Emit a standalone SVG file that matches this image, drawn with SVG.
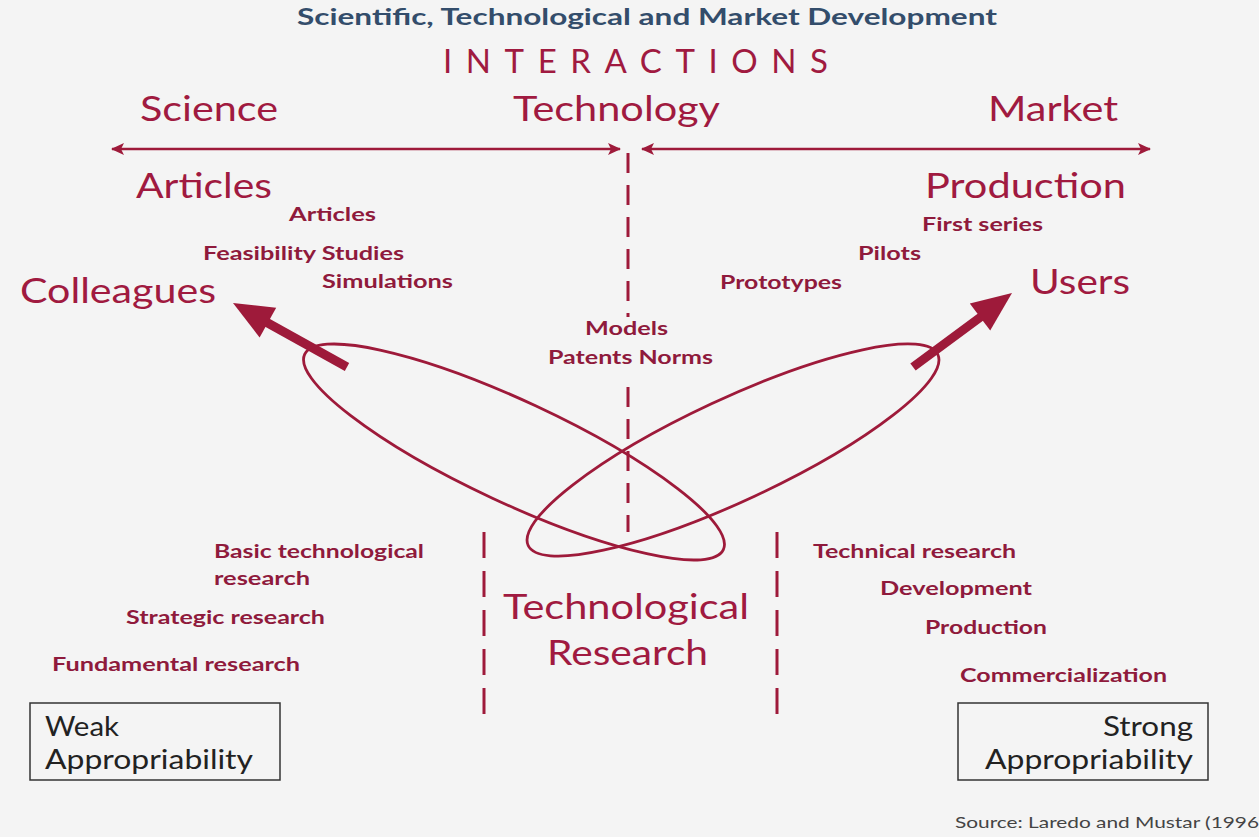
<svg xmlns="http://www.w3.org/2000/svg" width="1259" height="837" viewBox="0 0 1259 837">
<defs>
<marker id="ah" markerUnits="userSpaceOnUse" markerWidth="14" markerHeight="12" refX="12" refY="6" orient="auto-start-reverse">
<path d="M0,0 L13,6 L0,12 L3,6 Z" fill="#9e1a3a"/>
</marker>
<style>
.bg{fill:#f4f4f4}
.big{font-family:Lato,"Open Sans",sans-serif;font-size:34px;fill:#a01a40}
.sm{font-family:Lato,"Open Sans",sans-serif;font-size:19px;font-weight:bold;fill:#8f1a3c}
.box{fill:none;stroke:#333;stroke-width:1.5}
.bt{font-family:Lato,"Open Sans",sans-serif;font-size:27px;fill:#222}
.ln{stroke:#9e1a3a;fill:none}
.dash{stroke:#9e1a3a;stroke-width:3;stroke-dasharray:20 12}
</style>
</defs>
<rect class="bg" x="0" y="0" width="1259" height="837"/>
<text id="title" x="297" y="25" textLength="700" lengthAdjust="spacingAndGlyphs" style="font-family:Lato,'Open Sans',sans-serif;font-size:23px;font-weight:bold;fill:#334d6b">Scientific, Technological and Market Development</text>
<text id="interactions" x="443" y="73" textLength="385" lengthAdjust="spacing" style="font-family:Lato,'Open Sans',sans-serif;font-size:33px;fill:#a01a40">INTERACTIONS</text>
<g id="headers">
<text class="big" x="140" y="121" textLength="138" lengthAdjust="spacingAndGlyphs">Science</text>
<text class="big" x="513" y="121" textLength="207" lengthAdjust="spacingAndGlyphs">Technology</text>
<text class="big" x="988" y="121" textLength="130" lengthAdjust="spacingAndGlyphs">Market</text>
</g>
<g id="connectors">
<line class="ln" x1="112" y1="149" x2="620" y2="149" stroke-width="2.5" marker-start="url(#ah)" marker-end="url(#ah)"/>
<line class="ln" x1="642" y1="149" x2="1150" y2="149" stroke-width="2.5" marker-start="url(#ah)" marker-end="url(#ah)"/>
<line class="dash" x1="628" y1="153" x2="628" y2="308"/>
<line class="ln" x1="628" y1="313" x2="628" y2="317" stroke-width="3"/>
<line class="dash" x1="628" y1="387" x2="628" y2="532"/>
<line class="dash" x1="484" y1="532" x2="484" y2="714" style="stroke-dasharray:26 13"/>
<line class="dash" x1="777" y1="532" x2="777" y2="714" style="stroke-dasharray:26 13"/>
<ellipse class="ln" cx="514" cy="452" rx="231" ry="51" stroke-width="2.8" transform="rotate(25 514 452)"/>
<ellipse class="ln" cx="733" cy="450" rx="226" ry="51" stroke-width="2.8" transform="rotate(-25 733 450)"/>
<line class="ln" x1="347" y1="367" x2="266" y2="322" stroke-width="9"/>
<polygon points="233,303 276.2,307.8 259.6,337.4" fill="#9e1a3a"/>
<line class="ln" x1="913" y1="367" x2="982" y2="316" stroke-width="9"/>
<polygon points="1012,293 990.2,330.6 969.8,303.4" fill="#9e1a3a"/>
</g>
<g id="science-side">
<text class="big" x="136" y="198" textLength="136" lengthAdjust="spacingAndGlyphs">Articles</text>
<text class="sm" x="289" y="221" textLength="87" lengthAdjust="spacingAndGlyphs">Articles</text>
<text class="sm" x="203" y="260" textLength="201" lengthAdjust="spacingAndGlyphs">Feasibility Studies</text>
<text class="sm" x="322" y="288" textLength="131" lengthAdjust="spacingAndGlyphs">Simulations</text>
<text class="big" x="20" y="303" textLength="196" lengthAdjust="spacingAndGlyphs">Colleagues</text>
</g>
<g id="center">
<text class="sm" x="585" y="335" textLength="83" lengthAdjust="spacingAndGlyphs">Models</text>
<text class="sm" x="548" y="364" textLength="165" lengthAdjust="spacingAndGlyphs">Patents Norms</text>
</g>
<g id="market-side">
<text class="big" x="925" y="198" textLength="201" lengthAdjust="spacingAndGlyphs">Production</text>
<text class="sm" x="922" y="231" textLength="121" lengthAdjust="spacingAndGlyphs">First series</text>
<text class="sm" x="858" y="260" textLength="63" lengthAdjust="spacingAndGlyphs">Pilots</text>
<text class="sm" x="720" y="289" textLength="122" lengthAdjust="spacingAndGlyphs">Prototypes</text>
<text class="big" x="1030" y="294" textLength="100" lengthAdjust="spacingAndGlyphs">Users</text>
</g>
<g id="left-research">
<text class="sm" x="214" y="558" textLength="210" lengthAdjust="spacingAndGlyphs">Basic technological</text>
<text class="sm" x="214" y="585" textLength="96" lengthAdjust="spacingAndGlyphs">research</text>
<text class="sm" x="126" y="624" textLength="199" lengthAdjust="spacingAndGlyphs">Strategic research</text>
<text class="sm" x="52" y="671" textLength="248" lengthAdjust="spacingAndGlyphs">Fundamental research</text>
</g>
<g id="tech-research">
<text class="big" x="503" y="619" textLength="246" lengthAdjust="spacingAndGlyphs">Technological</text>
<text class="big" x="547" y="665" textLength="161" lengthAdjust="spacingAndGlyphs">Research</text>
</g>
<g id="right-research">
<text class="sm" x="813" y="558" textLength="203" lengthAdjust="spacingAndGlyphs">Technical research</text>
<text class="sm" x="880" y="595" textLength="152" lengthAdjust="spacingAndGlyphs">Development</text>
<text class="sm" x="925" y="634" textLength="122" lengthAdjust="spacingAndGlyphs">Production</text>
<text class="sm" x="960" y="682" textLength="207" lengthAdjust="spacingAndGlyphs">Commercialization</text>
</g>
<g id="weak">
<rect class="box" x="30" y="703" width="250" height="77"/>
<text class="bt" x="45" y="736" textLength="74" lengthAdjust="spacingAndGlyphs">Weak</text>
<text class="bt" x="45" y="769" textLength="208" lengthAdjust="spacingAndGlyphs">Appropriability</text>
</g>
<g id="strong">
<rect class="box" x="958" y="703" width="250" height="77"/>
<text class="bt" x="1103" y="736" textLength="90" lengthAdjust="spacingAndGlyphs">Strong</text>
<text class="bt" x="985" y="769" textLength="208" lengthAdjust="spacingAndGlyphs">Appropriability</text>
</g>
<text id="source" x="955" y="828" textLength="304" lengthAdjust="spacingAndGlyphs" style="font-family:Lato,'Open Sans',sans-serif;font-size:15px;fill:#444">Source: Laredo and Mustar (1996</text>
</svg>
